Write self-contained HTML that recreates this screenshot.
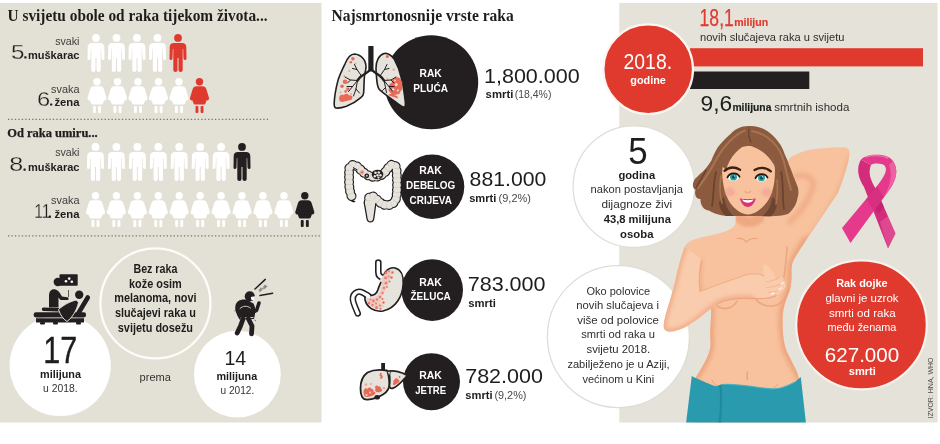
<!DOCTYPE html>
<html><head><meta charset="utf-8"><title>Rak</title>
<style>html,body{margin:0;padding:0;background:#fff}svg{display:block;will-change:transform}text{font-kerning:normal}</style>
</head><body>
<svg width="940" height="444" viewBox="0 0 940 444">
<defs>
<symbol id="man" viewBox="0 0 17 38" overflow="visible">
 <circle cx="8.5" cy="3.9" r="3.9"/>
 <path d="M4.4 8.9 h8.2 c2.6 0 4.1 1.600 4.200 4 l0.200 11.600 a1.500 1.500 0 0 1 -3 0.100 l-0.300 -9.700 h-0.500 v21 a2.100 2.100 0 0 1 -4.200 0 v-12 h-1 v12 a2.100 2.100 0 0 1 -4.200 0 v-21 h-0.500 l-0.300 9.700 a1.500 1.500 0 0 1 -3 -0.100 l0.200 -11.600 c0.100 -2.400 1.600 -4 4.200 -4z"/>
</symbol>
<symbol id="woman" viewBox="0 0 19 35" overflow="visible">
 <circle cx="9.5" cy="3.7" r="3.7"/>
 <path d="M6.400 8.300 h6.200 c2 0 3.200 1 3.800 2.900 l2.500 8.300 c0.600 2 -0.700 3.200 -2.200 2.800 l-1.400 3.400 c-0.200 0.500 -0.600 0.800 -1.200 0.800 h-9.200 c-0.600 0 -1 -0.300 -1.200 -0.800 l-1.400 -3.400 c-1.500 0.400 -2.800 -0.800 -2.200 -2.800 l2.500 -8.300 c0.600 -1.900 1.800 -2.900 3.800 -2.900z"/>
 <rect x="5.500" y="28.100" width="2.900" height="6.900" rx="0.900"/>
 <rect x="10.600" y="28.100" width="2.900" height="6.900" rx="0.900"/>
</symbol>
</defs>
<rect x="0" y="3" width="321.5" height="419.5" fill="#e3e0d6"/>
<rect x="619.3" y="3" width="318.3" height="419.5" fill="#e4e2d9"/>
<text x="7.6" y="21.2" font-size="17" font-weight="700" text-anchor="start" fill="#1d1d1b" font-family="Liberation Serif, sans-serif" textLength="260" lengthAdjust="spacingAndGlyphs" >U svijetu obole od raka tijekom života...</text>
<text x="7.2" y="137.4" font-size="12.6" font-weight="700" text-anchor="start" fill="#1d1d1b" font-family="Liberation Serif, sans-serif" textLength="90.5" lengthAdjust="spacingAndGlyphs" stroke="#1d1d1b" stroke-width="0.25">Od raka umiru...</text>
<line x1="8" y1="119.4" x2="269" y2="119.4" stroke="#77746d" stroke-width="1.3" stroke-dasharray="1.3 2.15"/>
<line x1="8" y1="235.8" x2="320.5" y2="235.8" stroke="#77746d" stroke-width="1.3" stroke-dasharray="1.3 2.15"/>
<use href="#man" x="87.5" y="34" width="17" height="38" fill="#ffffff"/>
<use href="#man" x="108.0" y="34" width="17" height="38" fill="#ffffff"/>
<use href="#man" x="128.5" y="34" width="17" height="38" fill="#ffffff"/>
<use href="#man" x="149.0" y="34" width="17" height="38" fill="#ffffff"/>
<use href="#man" x="169.5" y="34" width="17" height="38" fill="#e03a2f"/>
<use href="#woman" x="87.5" y="78" width="19" height="35" fill="#ffffff"/>
<use href="#woman" x="108.0" y="78" width="19" height="35" fill="#ffffff"/>
<use href="#woman" x="128.5" y="78" width="19" height="35" fill="#ffffff"/>
<use href="#woman" x="149.0" y="78" width="19" height="35" fill="#ffffff"/>
<use href="#woman" x="169.5" y="78" width="19" height="35" fill="#ffffff"/>
<use href="#woman" x="190.0" y="78" width="19" height="35" fill="#e03a2f"/>
<use href="#man" x="87.0" y="143" width="17" height="38" fill="#ffffff"/>
<use href="#man" x="107.9" y="143" width="17" height="38" fill="#ffffff"/>
<use href="#man" x="128.9" y="143" width="17" height="38" fill="#ffffff"/>
<use href="#man" x="149.8" y="143" width="17" height="38" fill="#ffffff"/>
<use href="#man" x="170.7" y="143" width="17" height="38" fill="#ffffff"/>
<use href="#man" x="191.7" y="143" width="17" height="38" fill="#ffffff"/>
<use href="#man" x="212.6" y="143" width="17" height="38" fill="#ffffff"/>
<use href="#man" x="233.5" y="143" width="17" height="38" fill="#231f20"/>
<use href="#woman" x="86.0" y="192" width="19" height="35" fill="#ffffff"/>
<use href="#woman" x="106.9" y="192" width="19" height="35" fill="#ffffff"/>
<use href="#woman" x="127.9" y="192" width="19" height="35" fill="#ffffff"/>
<use href="#woman" x="148.8" y="192" width="19" height="35" fill="#ffffff"/>
<use href="#woman" x="169.7" y="192" width="19" height="35" fill="#ffffff"/>
<use href="#woman" x="190.7" y="192" width="19" height="35" fill="#ffffff"/>
<use href="#woman" x="211.6" y="192" width="19" height="35" fill="#ffffff"/>
<use href="#woman" x="232.5" y="192" width="19" height="35" fill="#ffffff"/>
<use href="#woman" x="253.4" y="192" width="19" height="35" fill="#ffffff"/>
<use href="#woman" x="274.4" y="192" width="19" height="35" fill="#ffffff"/>
<use href="#woman" x="295.3" y="192" width="19" height="35" fill="#231f20"/>
<text x="79.5" y="44.9" font-size="10.8" font-weight="400" text-anchor="end" fill="#3c3c3a" font-family="Liberation Sans, sans-serif" textLength="24.3" lengthAdjust="spacingAndGlyphs" >svaki</text>
<text x="79.5" y="58.5" font-size="11" font-weight="700" text-anchor="end" fill="#1d1d1b" font-family="Liberation Sans, sans-serif" textLength="51.6" lengthAdjust="spacingAndGlyphs" >muškarac</text>
<text x="11.1" y="58.5" font-size="21" font-weight="400" text-anchor="start" fill="#1d1d1b" font-family="Liberation Sans, sans-serif" textLength="13.5" lengthAdjust="spacingAndGlyphs" stroke="#e3e0d6" stroke-width="0.3">5</text>
<rect x="24.3" y="56.3" width="2.2" height="2.2" rx="0.5" fill="#1d1d1b"/>
<text x="79.5" y="93.0" font-size="10.8" font-weight="400" text-anchor="end" fill="#3c3c3a" font-family="Liberation Sans, sans-serif" textLength="28.4" lengthAdjust="spacingAndGlyphs" >svaka</text>
<text x="79.5" y="105.6" font-size="11" font-weight="700" text-anchor="end" fill="#1d1d1b" font-family="Liberation Sans, sans-serif" textLength="25.1" lengthAdjust="spacingAndGlyphs" >žena</text>
<text x="37.0" y="105.6" font-size="21" font-weight="400" text-anchor="start" fill="#1d1d1b" font-family="Liberation Sans, sans-serif" textLength="13.2" lengthAdjust="spacingAndGlyphs" stroke="#e3e0d6" stroke-width="0.3">6</text>
<rect x="50.1" y="103.39999999999999" width="2.2" height="2.2" rx="0.5" fill="#1d1d1b"/>
<text x="79.5" y="156.0" font-size="10.8" font-weight="400" text-anchor="end" fill="#3c3c3a" font-family="Liberation Sans, sans-serif" textLength="24.3" lengthAdjust="spacingAndGlyphs" >svaki</text>
<text x="79.5" y="170.7" font-size="11" font-weight="700" text-anchor="end" fill="#1d1d1b" font-family="Liberation Sans, sans-serif" textLength="51.6" lengthAdjust="spacingAndGlyphs" >muškarac</text>
<text x="9.3" y="170.7" font-size="21" font-weight="400" text-anchor="start" fill="#1d1d1b" font-family="Liberation Sans, sans-serif" textLength="14.0" lengthAdjust="spacingAndGlyphs" stroke="#e3e0d6" stroke-width="0.3">8</text>
<rect x="23.5" y="168.5" width="2.2" height="2.2" rx="0.5" fill="#1d1d1b"/>
<text x="79.5" y="203.8" font-size="10.8" font-weight="400" text-anchor="end" fill="#3c3c3a" font-family="Liberation Sans, sans-serif" textLength="28.4" lengthAdjust="spacingAndGlyphs" >svaka</text>
<text x="79.5" y="217.7" font-size="11" font-weight="700" text-anchor="end" fill="#1d1d1b" font-family="Liberation Sans, sans-serif" textLength="25.1" lengthAdjust="spacingAndGlyphs" >žena</text>
<text x="34.2" y="217.7" font-size="21" font-weight="400" text-anchor="start" fill="#1d1d1b" font-family="Liberation Sans, sans-serif" textLength="16.5" lengthAdjust="spacingAndGlyphs" stroke="#e3e0d6" stroke-width="0.3">11</text>
<rect x="48.8" y="215.5" width="2.2" height="2.2" rx="0.5" fill="#1d1d1b"/>
<defs><clipPath id="cpl"><rect x="0" y="3" width="321.5" height="419.5"/></clipPath></defs>
<g clip-path="url(#cpl)">
<circle cx="60.2" cy="365.5" r="50.6" fill="#fff"/>
<circle cx="237.4" cy="374.2" r="43.4" fill="#fff"/>
</g>
<circle cx="155.4" cy="303.3" r="55" fill="none" stroke="#fdfcf9" stroke-width="2.3"/>
<g transform="translate(0,1)"><rect x="59.500" y="273.300" width="18.200" height="11.400" rx="0.800" fill="#231f20"/>
<g fill="#fff"><circle cx="66" cy="280.300" r="1.300"/><circle cx="69.200" cy="277.600" r="1.300"/><circle cx="71.800" cy="280.800" r="1.300"/></g>
<circle cx="57.800" cy="281" r="4.200" fill="#231f20"/>
<path d="M49 306.500 L49 295 C49 289.500 52 287.500 55.500 288.500 C59 289.500 60.500 293 62 295.500 L67.500 296.200 C69 296.400 69 299 67.500 299 L60.500 299 L58.500 296.500 L58.500 306.500 Z" fill="#231f20"/>
<path d="M68.500 289 L68.500 296" stroke="#231f20" stroke-width=".7"/>
<rect x="33.600" y="311.300" width="52.500" height="5.200" rx="2.400" fill="#231f20"/>
<path d="M36 317.300 L84 317.300 L84 321.500 L36 321.500 Z" fill="#231f20"/>
<rect x="40" y="321" width="5" height="2.600" rx="1" fill="#231f20"/><rect x="53" y="321" width="5" height="2.600" rx="1" fill="#231f20"/><rect x="76" y="321" width="5" height="2.600" rx="1" fill="#231f20"/>
<path d="M78.500 312 L87.800 296.500" stroke="#231f20" stroke-width="4.600" stroke-linecap="round"/>
<path d="M43.500 308.300 L64 309" stroke="#231f20" stroke-width="3.400" stroke-linecap="round"/>
<circle cx="79.200" cy="293.800" r="4.200" fill="#231f20"/>
<path d="M76.500 299 C71 300 64 303.500 58.500 308.500 C60 313.500 63 318 67 320.500 C72 317 77 309 78.500 301.500 Z" fill="#231f20" stroke="#e3e0d6" stroke-width="1" stroke-linejoin="round"/></g>
<circle cx="249.800" cy="296.300" r="5.100" fill="#231f20"/>
<path d="M250.800 297 L255 296.200 L254.500 299.800 L251.500 300.300 Z" fill="#fff"/>
<path d="M255 289 L265.300 279.400 M260 295.500 L272.600 293.200" stroke="#231f20" stroke-width="1.500" stroke-linecap="round"/>
<text transform="translate(259.500,292) rotate(-32)" font-size="4.500" font-family="Liberation Sans, sans-serif" fill="#231f20">ahak</text>
<path d="M235.500 305.500 C236.500 300.500 242 298.500 247 300 L253.500 303.500 C256 308 255.500 314 254 319 L239.500 319.500 C236.500 314 234.500 310 235.500 305.500 Z" fill="#231f20"/>
<path d="M240 308.500 C243 305.500 247 305.500 250.500 308" fill="none" stroke="#e3e0d6" stroke-width=".9" stroke-linecap="round"/>
<path d="M240.500 318 L253.500 317.500" stroke="#e3e0d6" stroke-width=".9"/>
<path d="M253.500 312 L256.500 310.500 L259 303" stroke="#231f20" stroke-width="3.600" stroke-linecap="round" stroke-linejoin="round" fill="none"/>
<path d="M243 319 L240.500 326 L237.200 333" stroke="#231f20" stroke-width="4.800" stroke-linecap="round" stroke-linejoin="round" fill="none"/>
<path d="M248.500 319 L252 326 L251.500 333.800" stroke="#231f20" stroke-width="4.800" stroke-linecap="round" stroke-linejoin="round" fill="none"/>
<path d="M236 310 l-1.500 1 M254.500 320 l1.500 1" stroke="#231f20" stroke-width=".6"/>
<text x="43.2" y="363.4" font-size="36.8" font-weight="400" text-anchor="start" fill="#1d1d1b" font-family="Liberation Sans, sans-serif" textLength="34.0" lengthAdjust="spacingAndGlyphs" stroke="#1d1d1b" stroke-width="0.35">17</text>
<text x="60.5" y="378.1" font-size="11.5" font-weight="700" text-anchor="middle" fill="#1d1d1b" font-family="Liberation Sans, sans-serif" textLength="41" lengthAdjust="spacingAndGlyphs" >milijuna</text>
<text x="60.4" y="392.3" font-size="11.5" font-weight="400" text-anchor="middle" fill="#333" font-family="Liberation Sans, sans-serif" textLength="34.6" lengthAdjust="spacingAndGlyphs" >u 2018.</text>
<text x="224.4" y="364.6" font-size="20.8" font-weight="400" text-anchor="start" fill="#1d1d1b" font-family="Liberation Sans, sans-serif" textLength="21.8" lengthAdjust="spacingAndGlyphs" >14</text>
<text x="236.8" y="379.5" font-size="11.5" font-weight="700" text-anchor="middle" fill="#1d1d1b" font-family="Liberation Sans, sans-serif" textLength="40.8" lengthAdjust="spacingAndGlyphs" >milijuna</text>
<text x="237.4" y="393.6" font-size="11.5" font-weight="400" text-anchor="middle" fill="#333" font-family="Liberation Sans, sans-serif" textLength="33.8" lengthAdjust="spacingAndGlyphs" >u 2012.</text>
<text x="155.3" y="381" font-size="11.5" font-weight="400" text-anchor="middle" fill="#333" font-family="Liberation Sans, sans-serif" textLength="31.4" lengthAdjust="spacingAndGlyphs" >prema</text>
<text x="155.4" y="273.0" font-size="12.5" font-weight="700" text-anchor="middle" fill="#1d1d1b" font-family="Liberation Sans, sans-serif" textLength="43.9" lengthAdjust="spacingAndGlyphs" >Bez raka</text>
<text x="155.4" y="287.72" font-size="12.5" font-weight="700" text-anchor="middle" fill="#1d1d1b" font-family="Liberation Sans, sans-serif" textLength="52.7" lengthAdjust="spacingAndGlyphs" >kože osim</text>
<text x="155.4" y="302.44" font-size="12.5" font-weight="700" text-anchor="middle" fill="#1d1d1b" font-family="Liberation Sans, sans-serif" textLength="82.4" lengthAdjust="spacingAndGlyphs" >melanoma, novi</text>
<text x="155.4" y="317.16" font-size="12.5" font-weight="700" text-anchor="middle" fill="#1d1d1b" font-family="Liberation Sans, sans-serif" textLength="81" lengthAdjust="spacingAndGlyphs" >slučajevi raka u</text>
<text x="155.4" y="331.88" font-size="12.5" font-weight="700" text-anchor="middle" fill="#1d1d1b" font-family="Liberation Sans, sans-serif" textLength="75.3" lengthAdjust="spacingAndGlyphs" >svijetu dosežu</text>
<text x="331.6" y="21.0" font-size="17" font-weight="700" text-anchor="start" fill="#1d1d1b" font-family="Liberation Serif, sans-serif" textLength="182.2" lengthAdjust="spacingAndGlyphs" >Najsmrtonosnije vrste raka</text>
<circle cx="431.2" cy="82.3" r="47" fill="#231f20"/>
<text x="430.6" y="77.3" font-size="11" font-weight="700" text-anchor="middle" fill="#fff" font-family="Liberation Sans, sans-serif" textLength="22.2" lengthAdjust="spacingAndGlyphs" >RAK</text>
<text x="430.6" y="92.2" font-size="11" font-weight="700" text-anchor="middle" fill="#fff" font-family="Liberation Sans, sans-serif" textLength="34.6" lengthAdjust="spacingAndGlyphs" >PLUĆA</text>
<circle cx="432.1" cy="186.8" r="32.2" fill="#231f20"/>
<text x="430.5" y="173.7" font-size="11" font-weight="700" text-anchor="middle" fill="#fff" font-family="Liberation Sans, sans-serif" textLength="22.6" lengthAdjust="spacingAndGlyphs" >RAK</text>
<text x="430.7" y="189.0" font-size="11" font-weight="700" text-anchor="middle" fill="#fff" font-family="Liberation Sans, sans-serif" textLength="49.2" lengthAdjust="spacingAndGlyphs" >DEBELOG</text>
<text x="430.75" y="203.5" font-size="11" font-weight="700" text-anchor="middle" fill="#fff" font-family="Liberation Sans, sans-serif" textLength="42.3" lengthAdjust="spacingAndGlyphs" >CRIJEVA</text>
<circle cx="432.2" cy="290.1" r="30.8" fill="#231f20"/>
<text x="430.5" y="285.8" font-size="11" font-weight="700" text-anchor="middle" fill="#fff" font-family="Liberation Sans, sans-serif" textLength="22.6" lengthAdjust="spacingAndGlyphs" >RAK</text>
<text x="430.65" y="300.0" font-size="11" font-weight="700" text-anchor="middle" fill="#fff" font-family="Liberation Sans, sans-serif" textLength="40.3" lengthAdjust="spacingAndGlyphs" >ŽELUCA</text>
<circle cx="431.5" cy="381.7" r="28.5" fill="#231f20"/>
<text x="430.5" y="379.2" font-size="11" font-weight="700" text-anchor="middle" fill="#fff" font-family="Liberation Sans, sans-serif" textLength="22.6" lengthAdjust="spacingAndGlyphs" >RAK</text>
<text x="430.65" y="393.9" font-size="11" font-weight="700" text-anchor="middle" fill="#fff" font-family="Liberation Sans, sans-serif" textLength="30.9" lengthAdjust="spacingAndGlyphs" >JETRE</text>
<path d="M366 67 C366 60 361 54.500 354.500 54 C350 54 347 59 345 63.800 C341 72 338.500 78 337.800 81.100 C335.500 90 334.500 97 334.200 102.700 C334 106 334.200 107.500 336 108 C340 108.500 343 107.500 346.400 106.300 C352 104 357 101 360.800 97.600 C362.500 96.500 363.500 95.500 363.600 93 C364 88 364 82 364.400 76.800 C364.500 73 366 71 366 67 Z" fill="#e6e3dc" stroke="#231f20" stroke-width="1.600" stroke-linejoin="round"/>
<path d="M376 68 C376 61 379 55 384 53.500 C388.500 52.500 392 56 394.500 59.500 C398 66 400 72 401 76.800 C403 84 404 90 404.500 95.500 C405 100 405.800 103 405.300 105.600 C405 107.500 403.500 107.500 401.500 106.300 C399 104.800 397 103 394.500 101.200 C390 98 386 95 383 92.600 C381 91 379.500 90 378.600 88.300 C377 85 376.700 80 376.500 76.800 C376.200 73 376 71 376 68 Z" fill="#e6e3dc" stroke="#231f20" stroke-width="1.600" stroke-linejoin="round"/>
<g fill="#ea6a58"><path d="M339.300 97 c.6-2.400 2.800-3.200 4.600-2 c1.600-1.800 4.200-1.400 5.200.5 c1.800-.6 3.600.7 3.300 2.500 c-.2 1.300-1.200 2-2.600 2.300 l-7.600 1.600 c-2.200.4-3.500-1.500-2.900-4.900z"/><circle cx="345" cy="81.800" r="2.300"/><circle cx="342" cy="86.200" r="1.800"/><circle cx="347.800" cy="89" r="1.700"/><circle cx="345.600" cy="91.400" r="1.300"/><circle cx="352.900" cy="58.800" r="1.800"/><circle cx="350.800" cy="62.300" r="1.300"/><path d="M395.500 77.500 c2.600-1 5 .4 5.400 2.800 c1.700 1.400 2 3.800.8 5.400 c1.300 2 .7 4.500-1.200 5.400 c0 2.500-2.200 4-4.400 3.300 c-2 1.500-4.800.6-5.400-1.700 c-2.200-.8-2.800-3.400-1.400-5 c-1-2.200.2-4.500 2.400-4.800 c-.3-2.400 1.300-4.500 3.800-5.400z"/><path d="M388.500 95 c1.600-1.700 4.200-1.500 5.500.2 c2.400-.3 4.200 1.400 4 3.300 l-9-3 z"/><circle cx="387.300" cy="56.600" r="1.500"/></g>
<g fill="#e6e3dc"><circle cx="396.200" cy="84.500" r="1.500"/><circle cx="393.200" cy="89.500" r="1.200"/><circle cx="397.800" cy="90.500" r="1"/><circle cx="395" cy="80.500" r=".9"/></g>
<g fill="#f3a093"><circle cx="349.300" cy="71" r="1.100"/><circle cx="344.200" cy="76" r="1"/><circle cx="355.500" cy="63.500" r="1"/><circle cx="393.700" cy="69.600" r="1.200"/><circle cx="387.300" cy="79" r="1"/><circle cx="340.500" cy="92.500" r="1"/><circle cx="351" cy="94" r="1"/></g>
<rect x="368.300" y="46" width="5.200" height="25.500" fill="#231f20"/>
<g fill="none" stroke="#231f20" stroke-linecap="round"><path d="M370 70 C367 73 364.500 74 361.500 76 C359.500 77.500 358.500 79 357.500 80.500 M372 70 C375 73 377.500 74 380 76 C382 77.500 383 79 384 80.500" stroke-width="2.400"/><path d="M357.500 80.500 L348.500 91.500 M357.500 80.500 L350.500 80 L345 77 M357.500 80.500 L356 89 L353.500 96 M361.500 76 L357 69.500 L354.500 64.500 M357 69.500 L352.500 68.500 M352.500 86.500 L347 86.500 M356 89 L359.500 93 M350.500 80 L347.500 83" stroke-width="1"/><path d="M384 80.500 L392.500 91 M384 80.500 L391 80 L396 77 M384 80.500 L385.500 87.500 L386.500 92.500 M380 76 L384.500 69.500 L387 64.500 M384.500 69.500 L389 68.500 M389 86.500 L394 86.500 M385.500 87.500 L382.500 90.500 M391 80 L394 83" stroke-width="1"/></g>
<path d="M351.500 196 C348 188 349.500 178 349 170.500 C349 165.500 353 163.500 356.500 166 C361 169.500 364 174.500 371.500 176.500 C380 178.500 386 172 388.500 167.500 C390.500 163.500 396 163.500 396.500 169 C397 178 397.500 188 396.500 196.500 C395.500 203.500 390 206.500 383.500 204.500 C378 202.500 375.500 196 371.500 196.200 C368 196.500 368.500 201 369 205" fill="none" stroke="#231f20" stroke-width="10" stroke-linecap="round" stroke-dasharray="0.100 4.600"/>
<path d="M351.500 196 C348 188 349.500 178 349 170.500 C349 165.500 353 163.500 356.500 166 C361 169.500 364 174.500 371.500 176.500 C380 178.500 386 172 388.500 167.500 C390.500 163.500 396 163.500 396.500 169 C397 178 397.500 188 396.500 196.500 C395.500 203.500 390 206.500 383.500 204.500 C378 202.500 375.500 196 371.500 196.200 C368 196.500 368.500 201 369 205" fill="none" stroke="#231f20" stroke-width="7.400" stroke-linecap="round" stroke-linejoin="round"/>
<path d="M364.300 203 C364 196.500 376.500 196.500 375.800 204 L373.800 218.500 C373.200 223 367.600 223 367 218.500 Z" fill="#e6e3dc" stroke="#231f20" stroke-width="1.300"/>
<path d="M350.500 198.500 C351 200.500 352.500 201.500 354.500 201.500" fill="none" stroke="#231f20" stroke-width="1.600" stroke-linecap="round"/>
<path d="M351.500 196 C348 188 349.500 178 349 170.500 C349 165.500 353 163.500 356.500 166 C361 169.500 364 174.500 371.500 176.500 C380 178.500 386 172 388.500 167.500 C390.500 163.500 396 163.500 396.500 169 C397 178 397.500 188 396.500 196.500 C395.500 203.500 390 206.500 383.500 204.500 C378 202.500 375.500 196 371.500 196.200 C368 196.500 368.500 201 369 205" fill="none" stroke="#e6e3dc" stroke-width="7.600" stroke-linecap="round" stroke-dasharray="0.100 4.600"/>
<path d="M351.500 196 C348 188 349.500 178 349 170.500 C349 165.500 353 163.500 356.500 166 C361 169.500 364 174.500 371.500 176.500 C380 178.500 386 172 388.500 167.500 C390.500 163.500 396 163.500 396.500 169 C397 178 397.500 188 396.500 196.500 C395.500 203.500 390 206.500 383.500 204.500 C378 202.500 375.500 196 371.500 196.200 C368 196.500 368.500 201 369 205" fill="none" stroke="#e6e3dc" stroke-width="5.200" stroke-linecap="round" stroke-linejoin="round"/>
<path d="M351.500 196 C348 188 349.500 178 349 170.500 C349 165.500 353 163.500 356.500 166 C361 169.500 364 174.500 371.500 176.500 C380 178.500 386 172 388.500 167.500 C390.500 163.500 396 163.500 396.500 169 C397 178 397.500 188 396.500 196.500 C395.500 203.500 390 206.500 383.500 204.500 C378 202.500 375.500 196 371.500 196.200 C368 196.500 368.500 201 369 205" fill="none" stroke="#c9c5bc" stroke-width="5.500" stroke-dasharray="0.500 4.200" stroke-dashoffset="2.400"/>
<ellipse cx="377.500" cy="174.500" rx="5.800" ry="4.800" fill="#231f20"/>
<g fill="#e9e6df"><circle cx="375.500" cy="172.800" r="1.300"/><circle cx="378.800" cy="172.500" r="1.300"/><circle cx="380.500" cy="175.200" r="1.200"/><circle cx="377.500" cy="175.200" r="1.200"/><circle cx="374.800" cy="176.200" r="1.200"/><circle cx="378.500" cy="177.600" r="1.100"/></g>
<circle cx="366.800" cy="175.800" r="2.400" fill="#231f20"/><circle cx="366.800" cy="175.800" r="1" fill="#bdb9b0"/>
<circle cx="362" cy="172.300" r="2.300" fill="#f2a4a4"/><circle cx="362.200" cy="172.300" r="1.100" fill="#ea6a58"/>
<path d="M353 167.500 L357.500 170" stroke="#231f20" stroke-width="1" fill="none"/>
<path d="M357.800 313.500 C354 304 350 297.500 355.500 293 C360 289.500 364 293.500 368.500 296" fill="none" stroke="#231f20" stroke-width="6.400" stroke-linecap="round"/>
<path d="M378.300 262.500 L378.300 272 C378.300 276 380.500 277.500 384 278" fill="none" stroke="#231f20" stroke-width="6.600" stroke-linecap="round"/>
<path d="M382.800 277 C384.500 270.500 390 266.800 395 268 C401 269.500 403.800 276 403.200 284 C402.500 296 396 308.500 383 311 C374 312.500 366.500 307 365 299.500 C364.600 297 365.500 295.300 367.500 295.500 C372 296 376.500 294.500 378 289.500 C379 285.500 381.500 282 382.800 277 Z" fill="#e6e3dc" stroke="#231f20" stroke-width="1.700" stroke-linejoin="round"/>
<path d="M357.800 313.500 C354 304 350 297.500 355.500 293 C360 289.500 364 293.500 368.500 296" fill="none" stroke="#fff" stroke-width="3.400" stroke-linecap="round"/>
<path d="M378.300 262.500 L378.300 272 C378.300 276 380.500 277.500 384 278" fill="none" stroke="#fff" stroke-width="3.400" stroke-linecap="round"/>
<path d="M381.500 280.500 L385.500 275.500" stroke="#e6e3dc" stroke-width="3.200" stroke-linecap="round"/>
<g fill="#ea6a58"><circle cx="386" cy="273" r="1.3"/><circle cx="389" cy="271.5" r="1"/><circle cx="392.5" cy="272.5" r="1.2"/><circle cx="385.5" cy="278" r="1.4"/><circle cx="388.5" cy="276.5" r="1"/><circle cx="391.5" cy="277.5" r="1.3"/><circle cx="386" cy="283" r="1.5"/><circle cx="389.5" cy="281.5" r="1"/><circle cx="384" cy="288" r="1.2"/><circle cx="387" cy="287" r="0.9"/><circle cx="382.5" cy="293" r="1.2"/><circle cx="380" cy="297" r="1.3"/><circle cx="382.5" cy="299" r="1"/><circle cx="377" cy="299.5" r="1.2"/><circle cx="373.5" cy="301" r="1.4"/><circle cx="370.5" cy="299.5" r="1"/><circle cx="369" cy="303" r="1.3"/><circle cx="372.5" cy="305" r="1.2"/><circle cx="376" cy="303.5" r="1"/><circle cx="376.5" cy="307.5" r="1.5"/><circle cx="380" cy="305.5" r="1.1"/><circle cx="383.5" cy="302.5" r="1.2"/><circle cx="380.5" cy="308.8" r="1"/></g>
<path d="M384.500 270 C381 280 383 287 379 294 C376 299 369.500 298.500 367 298.500 L367.500 303 C372 309.500 381 309.500 384.500 306 C379 304 381 298 384.500 292 C389 284 391 276 392.500 270 Z" fill="#f3a093" opacity=".35"/>
<rect x="381.200" y="363" width="3.800" height="8" fill="#231f20"/>
<path d="M388.500 371.200 C394 370 402 372 407.300 375.500 C402.500 380.500 398.500 386.500 392.500 388.300 C390 388.800 389 387 389.500 384 C390 380 390 375.500 388.500 371.200 Z" fill="#e6e3dc" stroke="#231f20" stroke-width="1.800" stroke-linejoin="round"/>
<path d="M387 370.500 C380 369.500 372.500 370 367.500 372.500 C362.500 376 360.500 382.500 360.500 388.500 C360.500 395 362 400 367.500 399.700 C373 399.300 378 397.500 383 394.500 C388 391.500 389.500 388 389.300 383.500 C389.200 378.500 388.500 374 387 370.500 Z" fill="#e6e3dc" stroke="#231f20" stroke-width="1.800" stroke-linejoin="round"/>
<path d="M387.200 371.500 L390.500 371.800 L389.300 376 Z" fill="#fff" stroke="#231f20" stroke-width=".8"/>
<ellipse cx="377.200" cy="397.300" rx="2.800" ry="2.300" fill="#231f20"/>
<g fill="#ea6a58"><path d="M379.500 374.500 c2-.5 3.500 1 3.200 2.800 c-.3 1.500-2 2-2.700 1 c1-.8.800-2.200-.5-2.500 z"/><circle cx="380.800" cy="373.800" r="1"/><path d="M364 390 c.5-2 2.500-2.500 3.500-1 c1-2 3.500-2 4 0 c1.500-.5 2.500 1 2 2.500 c2 0 2.500 2 1 3 c-2 1.500-5 2.500-7.500 2.500 c-2.500 0-3.500-1.500-3-3 c-.8-1.500-.8-3 0-4 z"/><path d="M375 387 c.5-1.800 2.500-2 3.200-.6 c1.500-.8 3 .4 2.600 2 c1.500.4 1.800 2.200.6 3 c-1.500 1-4 1.200-5.400.3 c-1.200-.8-1.200-2.400-.2-3 c-.8-.5-1-1.200-.8-1.700 z"/><path d="M394.500 379.500 c1-1.800 3-1.500 3.500 0 c1.500 0 2 1.500 1 2.500 c-1.500 1.500-3.500 3-5 3 c-1.500 0-1.500-1.800-.5-2.500 c-.5-1.200 0-2.500 1-3 z"/><circle cx="399.500" cy="377" r=".9"/></g>
<g fill="#f3a093"><circle cx="366" cy="384.500" r="1.300"/><circle cx="371" cy="384" r="1"/><circle cx="384" cy="388" r="1.200"/><circle cx="366.500" cy="395" r="1" fill="#e6e3dc"/><circle cx="370" cy="392.500" r=".9" fill="#e6e3dc"/></g>
<text x="484.0" y="82.7" font-size="21" font-weight="400" text-anchor="start" fill="#1d1d1b" font-family="Liberation Sans, sans-serif" textLength="95.7" lengthAdjust="spacingAndGlyphs" >1,800.000</text>
<text x="485.6" y="98.4" font-size="11.3" font-weight="700" text-anchor="start" fill="#1d1d1b" font-family="Liberation Sans, sans-serif" textLength="27.8" lengthAdjust="spacingAndGlyphs" >smrti</text>
<text x="514.7" y="98.4" font-size="11" font-weight="400" text-anchor="start" fill="#4a4a48" font-family="Liberation Sans, sans-serif" textLength="36.7" lengthAdjust="spacingAndGlyphs" >(18,4%)</text>
<text x="469.6" y="185.5" font-size="21" font-weight="400" text-anchor="start" fill="#1d1d1b" font-family="Liberation Sans, sans-serif" textLength="76.7" lengthAdjust="spacingAndGlyphs" >881.000</text>
<text x="469.20000000000005" y="201.7" font-size="11.3" font-weight="700" text-anchor="start" fill="#1d1d1b" font-family="Liberation Sans, sans-serif" textLength="27.2" lengthAdjust="spacingAndGlyphs" >smrti</text>
<text x="498.59999999999997" y="201.7" font-size="11" font-weight="400" text-anchor="start" fill="#4a4a48" font-family="Liberation Sans, sans-serif" textLength="32.4" lengthAdjust="spacingAndGlyphs" >(9,2%)</text>
<text x="467.7" y="290.5" font-size="21" font-weight="400" text-anchor="start" fill="#1d1d1b" font-family="Liberation Sans, sans-serif" textLength="77.9" lengthAdjust="spacingAndGlyphs" >783.000</text>
<text x="468.3" y="306.7" font-size="11.3" font-weight="700" text-anchor="start" fill="#1d1d1b" font-family="Liberation Sans, sans-serif" textLength="27.6" lengthAdjust="spacingAndGlyphs" >smrti</text>
<text x="465.2" y="383.3" font-size="21" font-weight="400" text-anchor="start" fill="#1d1d1b" font-family="Liberation Sans, sans-serif" textLength="77.7" lengthAdjust="spacingAndGlyphs" >782.000</text>
<text x="465.3" y="399.0" font-size="11.3" font-weight="700" text-anchor="start" fill="#1d1d1b" font-family="Liberation Sans, sans-serif" textLength="27.3" lengthAdjust="spacingAndGlyphs" >smrti</text>
<text x="494.4" y="399.0" font-size="11" font-weight="400" text-anchor="start" fill="#4a4a48" font-family="Liberation Sans, sans-serif" textLength="32.1" lengthAdjust="spacingAndGlyphs" >(9,2%)</text>
<rect x="690" y="48.2" width="233" height="18.2" fill="#e03a2f"/>
<rect x="690" y="71.5" width="119.3" height="17.5" fill="#231f20"/>
<circle cx="648.2" cy="69.2" r="44.8" fill="#e03a2f" stroke="#fbf6f1" stroke-width="2.2"/>
<text x="647.8" y="69.2" font-size="22.5" font-weight="400" text-anchor="middle" fill="#fff" font-family="Liberation Sans, sans-serif" textLength="48.5" lengthAdjust="spacingAndGlyphs" >2018.</text>
<text x="648.1" y="84.4" font-size="11.5" font-weight="700" text-anchor="middle" fill="#fff" font-family="Liberation Sans, sans-serif" textLength="35.6" lengthAdjust="spacingAndGlyphs" >godine</text>
<text x="699.6" y="26.4" font-size="23" font-weight="400" text-anchor="start" fill="#e03a2f" font-family="Liberation Sans, sans-serif" textLength="34.2" lengthAdjust="spacingAndGlyphs" stroke="#e03a2f" stroke-width="0.25">18,1</text>
<text x="734.2" y="26.4" font-size="11.5" font-weight="700" text-anchor="start" fill="#e03a2f" font-family="Liberation Sans, sans-serif" textLength="34" lengthAdjust="spacingAndGlyphs" stroke="#e03a2f" stroke-width="0.2">milijun</text>
<text x="700" y="40.8" font-size="11.2" font-weight="400" text-anchor="start" fill="#2e2e2c" font-family="Liberation Sans, sans-serif" textLength="144.5" lengthAdjust="spacingAndGlyphs" >novih slučajeva raka u svijetu</text>
<text x="700.6" y="111" font-size="21.5" font-weight="400" text-anchor="start" fill="#1d1d1b" font-family="Liberation Sans, sans-serif" textLength="31.6" lengthAdjust="spacingAndGlyphs" >9,6</text>
<text x="732.4" y="111" font-size="11.5" font-weight="700" text-anchor="start" fill="#1d1d1b" font-family="Liberation Sans, sans-serif" textLength="39.0" lengthAdjust="spacingAndGlyphs" stroke="#1d1d1b" stroke-width="0.2">milijuna</text>
<text x="774.2" y="111" font-size="11.2" font-weight="400" text-anchor="start" fill="#2e2e2c" font-family="Liberation Sans, sans-serif" textLength="75.2" lengthAdjust="spacingAndGlyphs" >smrtnih ishoda</text>
<circle cx="633.9" cy="186.6" r="60.8" fill="#fff" stroke="#dfddd6" stroke-width="1.3"/>
<circle cx="618.4" cy="336.6" r="71" fill="#fff" stroke="#dfddd6" stroke-width="1.3"/>
<defs><clipPath id="cpr"><rect x="619.3" y="3" width="318.3" height="419.5"/></clipPath></defs>
<g clip-path="url(#cpr)"><defs><clipPath id="cb"><path d="M736 205 L735.500 224 C733 230 722 233 710 235.500 C698 238 688 240 684.500 247 C680 260 677 272 675.500 280 L670 300.500 C667.500 309 664 319 663.700 325.800 C663.700 329 665 331 668 331.500 C674 332 680 329.500 686.600 326.500 L699.200 317.900 L711 308.400 C711.500 320 709.500 330 710.500 342 C711.500 352 704 364 698 374 C694.500 379 693.500 383 693.500 386 L693.500 423.500 L800 423.500 L800 386 C799.500 381 798.500 376 797 372 C794 366 791 360 788 354 C784 346 782.500 336 782.500 318 C783 306 787 298 790 290 C792 282 791.500 274 791.500 268 C792 262 794.500 258 797.500 253.500 C806 240 824 214 838 193 C843 180 848 166 849.500 155 C850 150 848 147.500 844 147.300 C833 147 822 148 811 149.600 C803 151 795 154.500 789 158.500 L775 200 L763 205 L736 205 Z"/></clipPath><clipPath id="ca"><path d="M663.700 325.800 C663.700 329 665 331 668 331.500 C674 332 680 329.500 686.600 326.500 L699.200 317.900 C704 314 710 308 718 303.500 C728 298 740 298 752 298.500 C762 299 771 298.500 776 295.500 C780 293.500 785 289.500 786 286 C786.500 283.500 784 282.500 781.500 284 C784 281 784.500 278 782.500 277 C780.500 276.500 778 278.500 776 280.500 C776 276 772 270 768 266 C766.500 264.500 763.500 264.500 763 267 C762.500 270 764 273 764 276 C757 272 748 274 740 277 C728 281 714 286 700 291.500 C698.500 282 699.500 268 701.500 259 L684.500 247 C680 260 677 272 675.500 280 L670 300.500 C667.500 309 664 319 663.700 325.800 Z"/></clipPath><filter id="bl" x="-20%" y="-20%" width="140%" height="140%"><feGaussianBlur stdDeviation="2.200"/></filter><filter id="bl1" x="-20%" y="-20%" width="140%" height="140%"><feGaussianBlur stdDeviation="1"/></filter></defs>
<path d="M736 205 L735.500 224 C733 230 722 233 710 235.500 C698 238 688 240 684.500 247 C680 260 677 272 675.500 280 L670 300.500 C667.500 309 664 319 663.700 325.800 C663.700 329 665 331 668 331.500 C674 332 680 329.500 686.600 326.500 L699.200 317.900 L711 308.400 C711.500 320 709.500 330 710.500 342 C711.500 352 704 364 698 374 C694.500 379 693.500 383 693.500 386 L693.500 423.500 L800 423.500 L800 386 C799.500 381 798.500 376 797 372 C794 366 791 360 788 354 C784 346 782.500 336 782.500 318 C783 306 787 298 790 290 C792 282 791.500 274 791.500 268 C792 262 794.500 258 797.500 253.500 C806 240 824 214 838 193 C843 180 848 166 849.500 155 C850 150 848 147.500 844 147.300 C833 147 822 148 811 149.600 C803 151 795 154.500 789 158.500 L775 200 L763 205 L736 205 Z" fill="#f7c29d"/>
<g clip-path="url(#cb)"><g filter="url(#bl)" fill="none" stroke="#eda57f" stroke-linecap="round"><path d="M806 240 C800 250 793 258 791.500 268 C791.500 276 792 284 789 292 C785 302 782.500 308 782.500 318 C782.500 336 784 346 788 354 C791 360 794 366 797 372 C800 378 804 384 806 392" stroke-width="8"/><path d="M711 308.400 C711.500 320 709.500 330 710.500 342 C711.500 352 704 364 698 374 C693 381 689.500 386 689 392" stroke-width="7"/><path d="M795 176 C806 174 814 178 813 186 C810 198 801 212 790 222" stroke-width="5" opacity=".8"/><path d="M700 262 C698 272 698 282 700 290" stroke-width="5" opacity=".8"/><path d="M849 158 C846 172 842 184 838 193 C826 214 808 240 797.500 253.500" stroke-width="4" opacity=".6"/></g><path d="M735.500 206 C742 220 756 220 763.500 207 L763.500 221 C755 229 743 229 735.500 221 Z" fill="#eda57f" opacity=".85" filter="url(#bl1)"/></g>
<path d="M737 238.500 C741 238 744.500 239.500 746.500 242 C748.500 239.500 752 238 757 238.500" fill="none" stroke="#eda57f" stroke-width="1.200" stroke-linecap="round"/>
<path d="M715.500 303 C717 308 724 310 730 307.500 C733.500 306 736 303.500 737 301" fill="none" stroke="#eda57f" stroke-width="1.500" stroke-linecap="round"/>
<path d="M756 299 C760 305.500 770 308 778 304.500 C784 301.500 787.500 296 788.500 288 M787 247 C786.500 256 785.500 268 783.500 280" fill="none" stroke="#eda57f" stroke-width="1.500" stroke-linecap="round"/>
<path d="M747.200 372 L747.200 379.500" stroke="#eda57f" stroke-width="1.600" stroke-linecap="round"/>
<path d="M663.700 325.800 C663.700 329 665 331 668 331.500 C674 332 680 329.500 686.600 326.500 L699.200 317.900 C704 314 710 308 718 303.500 C728 298 740 298 752 298.500 C762 299 771 298.500 776 295.500 C780 293.500 785 289.500 786 286 C786.500 283.500 784 282.500 781.500 284 C784 281 784.500 278 782.500 277 C780.500 276.500 778 278.500 776 280.500 C776 276 772 270 768 266 C766.500 264.500 763.500 264.500 763 267 C762.500 270 764 273 764 276 C757 272 748 274 740 277 C728 281 714 286 700 291.500 C698.500 282 699.500 268 701.500 259 L684.500 247 C680 260 677 272 675.500 280 L670 300.500 C667.500 309 664 319 663.700 325.800 Z" fill="#f9ccad"/>
<g clip-path="url(#ca)"><g filter="url(#bl)" fill="none" stroke="#eda57f" stroke-linecap="round"><path d="M684.500 247 C680 260 677 272 675.500 280 L670 300.500 C667.500 309 664 319 663.700 325.800 C663.700 329 665 331 668 331.500 C674 332 680 329.500 686.600 326.500 L699.200 317.900 C704 314 710 308 718 303.500 C728 298 740 298 752 298.500" stroke-width="5.500" opacity=".8"/></g></g>
<path d="M700 291.500 C714 286 728 281 740 277 C748 274 757 272 764 276" fill="none" stroke="#eda57f" stroke-width="1.100" stroke-linecap="round" opacity=".7"/>
<path d="M701.500 260 C699.500 268 698.500 282 700 291.500" fill="none" stroke="#eda57f" stroke-width="1.200" stroke-linecap="round" opacity=".8"/>
<path d="M718 303.500 C728 298 740 298 752 298.500 C762 299 771 298.500 776 295.500" fill="none" stroke="#eda57f" stroke-width="1.300" stroke-linecap="round"/>
<path d="M766 282 C771 281 776 280 780 277.500 M767 287.500 C772 287 778 286 782.500 283.500 M768 292.500 C772 292.500 777 291.500 781 289" fill="none" stroke="#eda57f" stroke-width="0.900" stroke-linecap="round" opacity=".6"/>
<path d="M781.500 284 l2.400-1.600 M779 289.500 l2.400-1.400 M771.500 294 l2.400-1" stroke="#fff" stroke-width="1.600" stroke-linecap="round" opacity=".7"/>
<path d="M691.800 376 C697 379 706 382.500 715.500 386.300 L721.400 384.600 C730 383.500 745 385.500 756 387.100 C764 388.300 770 389 774.600 388.800 C780 388.600 786 387 794.900 382 L800.800 377 L806 423.500 L686 423.500 Z" fill="#2a9bae"/>
<path d="M721.400 384.600 C730 383.500 745 385.500 756 387.100 C764 388.300 770 389 774.600 388.800 C780 388.600 786 387 794.900 382" fill="none" stroke="#3fb2c2" stroke-width="1.300" opacity=".8"/>
<path d="M721.400 384.600 C722.800 396 722 410 721 423.500 L718.500 423.500 C719.800 410 720.600 396 719.300 385.300 Z" fill="#1f8397" opacity=".75"/>
<path d="M712 380.500 C713.500 383 715 384.500 717 385.500 M777.500 384 C776.500 386 775 387.500 773 388" fill="none" stroke="#e88f7a" stroke-width="1" stroke-linecap="round" opacity=".7"/>
<path d="M750 126 C742 125.500 735 129 731 133.500 C725 139 721 143 718 147 C715 152 713 156 711.400 160.500 C708 166 704 171 700 174 C698 176 696 178 694.500 179.500 C692 184 692.500 188.500 695.500 189.500 C694 195 696.500 199.500 700.500 199 C700 205 704 210.500 709 210.500 C714 214 722 216 731 216 L764 216 C773 216.500 782 216 788 214 C793 210 796.500 204 797.300 199 C799 194 798.500 190 798 187.700 C796 182 794.500 179 793.500 176.400 C792 172 790.500 168 789 165 C787.500 160 786 157 784.500 153.800 C783 149 781 145.500 778.800 142.600 C775 137 771 134 767.600 131.300 C762 127.500 756 126 750 126 Z" fill="#8c5b3f"/>
<path d="M724 196 C725 206 729 212 734 216 L726 216 C720 212 718 204 719 196 Z M772 198 C771 207 767 213 762 216.300 L771 216.300 C776 212 778 204 777 197 Z" fill="#6b432e"/>
<path d="M722 168 C722 155 735 146 750 146 C765 146 775 156 775 170 C775 184 772.500 194 767 202 C762 209 754 214.500 748 214.500 C742 214.500 734 209 729.500 202 C724.500 194 722 182 722 168 Z" fill="#f7c29d"/>
<ellipse cx="729.800" cy="192" rx="5.200" ry="4.400" fill="#f39a98" opacity=".55" filter="url(#bl1)"/><ellipse cx="766.800" cy="192.500" rx="5.200" ry="4.400" fill="#f39a98" opacity=".55" filter="url(#bl1)"/>
<path d="M751 140 C738 141 727 150 723.500 163 C721 174 721.500 186 724 197 C720 200 716 206 714 210 C711 209.500 709 208.500 708 207 C710 196 709 186 711 176 C713 158 728 138 751 140 Z" fill="#8c5b3f"/>
<path d="M750 140 C762 141 772 150 775 163 C777 176 776.500 188 773.500 198 C777 202 781 207 783 211.500 C785 211 786.500 210 787.500 209 C786 198 789 188 786 176 C784 158 772 139 750 140 Z" fill="#8c5b3f"/>
<path d="M722 166 C726 150 738 141 752 142 C740 146 730 156 726 170 Z" fill="#8c5b3f"/>
<path d="M750.500 141 C763 143 773 152 775.500 168 C771 158 763 150 751 146 Z" fill="#8c5b3f"/>
<g fill="none" stroke-linecap="round"><path d="M745 130.500 C735 134 724 146 717 158 C711 170 704 180 698 188" stroke="#a8744f" stroke-width="2"/><path d="M716 172 C713 184 714 196 712 206" stroke="#6b432e" stroke-width="1.800"/><path d="M721 176 C719 188 720 196 722 203" stroke="#a8744f" stroke-width="1.600"/><path d="M752 131 C768 134 780 146 784 162 C786 172 789 182 791 190" stroke="#a8744f" stroke-width="2"/><path d="M781 172 C784 184 782 198 784 209" stroke="#6b432e" stroke-width="1.800"/><path d="M777 180 C778 190 777 198 776 204" stroke="#a8744f" stroke-width="1.600"/><path d="M749 129 C748 134 749 138 751 142" stroke="#6b432e" stroke-width="1.200"/><path d="M706 170 C702 178 698 184 696 188" stroke="#6b432e" stroke-width="1.500"/></g>
<path d="M724.500 170.800 C729 167 735 166.800 740 169.800" fill="none" stroke="#3a2216" stroke-width="2.400" stroke-linecap="round"/>
<path d="M754.500 170 C760 167 766 167.300 770.800 171.300" fill="none" stroke="#3a2216" stroke-width="2.400" stroke-linecap="round"/>
<ellipse cx="733.5" cy="177" rx="5.600" ry="3.900" fill="#fff"/>
<circle cx="733.5" cy="177" r="3.500" fill="#25a0a6"/>
<circle cx="733.5" cy="177" r="1.600" fill="#0d4a50"/>
<circle cx="734.5" cy="176" r=".6" fill="#fff"/>
<path d="M727.5 177.3 C729.7 172.2 737.3 172.2 739.5 176.7" fill="none" stroke="#24150e" stroke-width="1.800" stroke-linecap="round"/>
<ellipse cx="761.5" cy="177.8" rx="5.600" ry="3.900" fill="#fff"/>
<circle cx="761.5" cy="177.8" r="3.500" fill="#25a0a6"/>
<circle cx="761.5" cy="177.8" r="1.600" fill="#0d4a50"/>
<circle cx="762.5" cy="176.8" r=".6" fill="#fff"/>
<path d="M755.5 178.10000000000002 C757.7 173.0 765.3 173.0 767.5 177.5" fill="none" stroke="#24150e" stroke-width="1.800" stroke-linecap="round"/>
<path d="M745 191.500 C746.500 193 749 193 750.500 191.500" fill="none" stroke="#eda57f" stroke-width="1.200" stroke-linecap="round"/>
<path d="M739.800 198.300 C744 199.500 751 199.500 755.800 198.300 C754.300 204.800 750.500 207 747.800 207 C745 207 741.300 204.800 739.800 198.300 Z" fill="#d6357a"/>
<path d="M742 199.600 C745 200.400 750.500 200.400 753.600 199.600 C752.500 202 750 202.800 747.800 202.800 C745.500 202.800 743 202 742 199.600 Z" fill="#fff"/></g>
<path d="M861 159.500 C856 168 858 178 864 187 L888 248.500 L895.500 233.500 L876.500 190 C870 180 868 172 871 165 Z" fill="#d42c7d"/>
<path d="M870 196 L876.500 190 L884 207 L878 214 Z" fill="#b81d69" opacity=".55"/>
<path d="M880 222 L888 248.500 L895.500 233.500 L888 216 Z" fill="#f27db3" opacity=".35"/>
<path d="M861 159.500 C866 153.500 888 152.500 893 161 C899 170 896 180 890 189 L880 184 C886 176 888 170 885 166 C882 163 874 163 871 165 Z" fill="#e5398c"/>
<path d="M893 161 C899 170 896 180 890 189 L850.500 243 L842 228 L877 186 C884 177 888 170 885 166 Z" fill="#e5398c"/>
<path d="M893 161 C899 170 896 180 890 189 L884 197 C890 186 893 175 889 165 Z" fill="#f27db3" opacity=".6"/>
<path d="M877 186 L884 197 L874 211 L866 199 Z" fill="#b81d69" opacity=".3"/>
<path d="M866 157 C872 155 882 155 888 158" fill="none" stroke="#f27db3" stroke-width="1.500" opacity=".8" stroke-linecap="round"/>
<text x="628.3" y="164.2" font-size="37.2" font-weight="400" text-anchor="start" fill="#1d1d1b" font-family="Liberation Sans, sans-serif" textLength="19.4" lengthAdjust="spacingAndGlyphs" >5</text>
<text x="636.8" y="178.7" font-size="11.5" font-weight="700" text-anchor="middle" fill="#1d1d1b" font-family="Liberation Sans, sans-serif" textLength="36.8" lengthAdjust="spacingAndGlyphs" >godina</text>
<text x="636.75" y="193.4" font-size="11.2" font-weight="400" text-anchor="middle" fill="#2e2e2c" font-family="Liberation Sans, sans-serif" textLength="92.3" lengthAdjust="spacingAndGlyphs" >nakon postavljanja</text>
<text x="636.8" y="208.1" font-size="11.2" font-weight="400" text-anchor="middle" fill="#2e2e2c" font-family="Liberation Sans, sans-serif" textLength="70.8" lengthAdjust="spacingAndGlyphs" >dijagnoze živi</text>
<text x="637.3" y="222.8" font-size="11.5" font-weight="700" text-anchor="middle" fill="#1d1d1b" font-family="Liberation Sans, sans-serif" textLength="67.2" lengthAdjust="spacingAndGlyphs" >43,8 milijuna</text>
<text x="636.8" y="237.5" font-size="11.5" font-weight="700" text-anchor="middle" fill="#1d1d1b" font-family="Liberation Sans, sans-serif" textLength="33.4" lengthAdjust="spacingAndGlyphs" >osoba</text>
<text x="618.3" y="294.6" font-size="11.2" font-weight="400" text-anchor="middle" fill="#2e2e2c" font-family="Liberation Sans, sans-serif" textLength="63.6" lengthAdjust="spacingAndGlyphs" >Oko polovice</text>
<text x="617.6500000000001" y="308.9" font-size="11.2" font-weight="400" text-anchor="middle" fill="#2e2e2c" font-family="Liberation Sans, sans-serif" textLength="82.7" lengthAdjust="spacingAndGlyphs" >novih slučajeva i</text>
<text x="618.1" y="323.7" font-size="11.2" font-weight="400" text-anchor="middle" fill="#2e2e2c" font-family="Liberation Sans, sans-serif" textLength="81.8" lengthAdjust="spacingAndGlyphs" >više od polovice</text>
<text x="618.1" y="338.4" font-size="11.2" font-weight="400" text-anchor="middle" fill="#2e2e2c" font-family="Liberation Sans, sans-serif" textLength="73.8" lengthAdjust="spacingAndGlyphs" >smrti od raka u</text>
<text x="618.3" y="353.3" font-size="11.2" font-weight="400" text-anchor="middle" fill="#2e2e2c" font-family="Liberation Sans, sans-serif" textLength="63.6" lengthAdjust="spacingAndGlyphs" >svijetu 2018.</text>
<text x="618.5" y="368.2" font-size="11.2" font-weight="400" text-anchor="middle" fill="#2e2e2c" font-family="Liberation Sans, sans-serif" textLength="102.2" lengthAdjust="spacingAndGlyphs" >zabilježeno je u Aziji,</text>
<text x="618.3" y="382.6" font-size="11.2" font-weight="400" text-anchor="middle" fill="#2e2e2c" font-family="Liberation Sans, sans-serif" textLength="71.8" lengthAdjust="spacingAndGlyphs" >većinom u Kini</text>
<ellipse cx="861.5" cy="324.8" rx="65.3" ry="64.5" fill="#e03a2f" stroke="#f6f2ec" stroke-width="2.2"/>
<text x="861.95" y="287" font-size="11.5" font-weight="700" text-anchor="middle" fill="#fff" font-family="Liberation Sans, sans-serif" textLength="51.5" lengthAdjust="spacingAndGlyphs" >Rak dojke</text>
<text x="861.95" y="301.9" font-size="11.2" font-weight="400" text-anchor="middle" fill="#fff" font-family="Liberation Sans, sans-serif" textLength="73.1" lengthAdjust="spacingAndGlyphs" >glavni je uzrok</text>
<text x="862.25" y="316.5" font-size="11.2" font-weight="400" text-anchor="middle" fill="#fff" font-family="Liberation Sans, sans-serif" textLength="66.7" lengthAdjust="spacingAndGlyphs" >smrti od raka</text>
<text x="861.9" y="331.2" font-size="11.2" font-weight="400" text-anchor="middle" fill="#fff" font-family="Liberation Sans, sans-serif" textLength="69.0" lengthAdjust="spacingAndGlyphs" >među ženama</text>
<text x="824.8" y="361.9" font-size="20.6" font-weight="400" text-anchor="start" fill="#fff" font-family="Liberation Sans, sans-serif" textLength="74.4" lengthAdjust="spacingAndGlyphs" >627.000</text>
<text x="862.35" y="374.8" font-size="11.5" font-weight="700" text-anchor="middle" fill="#fff" font-family="Liberation Sans, sans-serif" textLength="27.1" lengthAdjust="spacingAndGlyphs" >smrti</text>
<text transform="translate(933.3,418.5) rotate(-90)" font-size="7" font-family="Liberation Sans, sans-serif" fill="#4c4c4a">IZVOR: HNA, WHO</text>
</svg>
</body></html>
